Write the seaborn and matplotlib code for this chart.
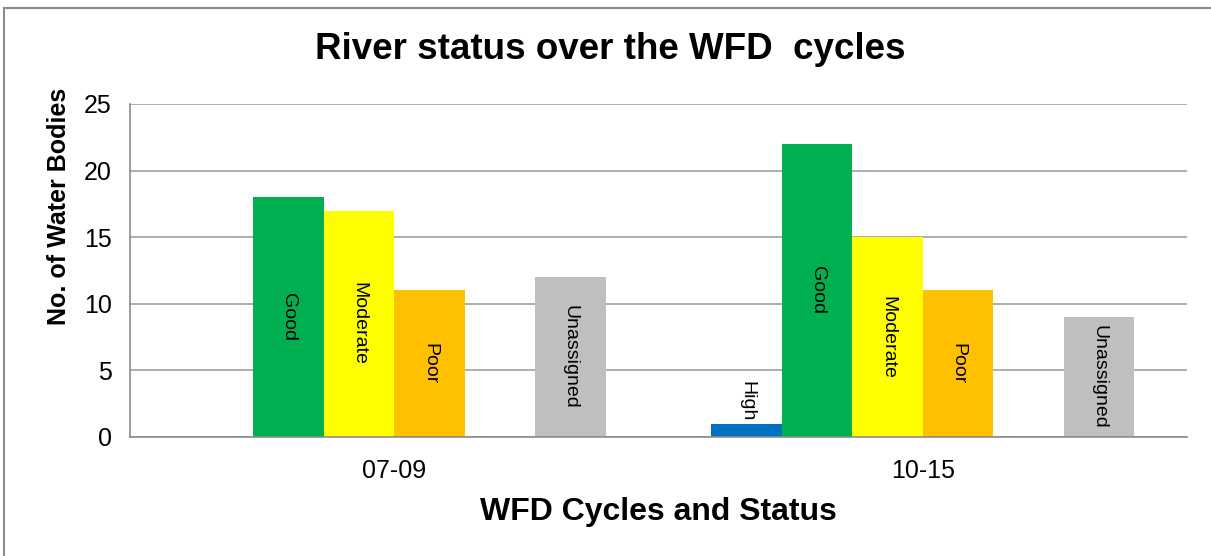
import pandas as pd
import matplotlib
matplotlib.use('Agg')
import matplotlib.pyplot as plt
import seaborn as sns
from matplotlib.patches import Rectangle

# Data
cycles = ['07-09', '10-15']
statuses = ['High', 'Good', 'Moderate', 'Poor', 'Bad', 'Unassigned']
counts_0709 = [0, 18, 17, 11, 0, 12]
counts_1015 = [1, 22, 15, 11, 0, 9]
status_colors = ['#0070C0', '#00B050', '#FFFF00', '#FFC000', '#C00000', '#BFBFBF']

rows = []
for cycle, counts in zip(cycles, [counts_0709, counts_1015]):
    for status, n in zip(statuses, counts):
        rows.append({'cycle': cycle, 'status': status, 'count': n})
df = pd.DataFrame(rows)

sns.set_style('white')
plt.rcParams['font.family'] = ['Liberation Sans', 'DejaVu Sans']
plt.rcParams['text.color'] = 'black'
plt.rcParams['axes.labelcolor'] = 'black'

fig = plt.figure(figsize=(12.11, 5.56), dpi=100)
ax = fig.add_axes([130 / 1211, 1 - 437 / 556, 1057 / 1211, 333 / 556])

sns.barplot(data=df, x='cycle', y='count', hue='status', order=cycles,
            hue_order=statuses, palette=status_colors, width=0.8,
            saturation=1, legend=False, linewidth=0, ax=ax)

# rotated labels inside each bar
for container, status in zip(ax.containers, statuses):
    for bar in container:
        h = bar.get_height()
        if h <= 0:
            continue
        xc = bar.get_x() + bar.get_width() / 2
        if h < 4:
            ax.text(xc, h + 0.15, status, rotation=270, ha='center', va='bottom', fontsize=14)
        else:
            ax.text(xc, h / 2, status, rotation=270, ha='center', va='center', fontsize=14)

ax.set_xlim(-0.5, 1.5)
ax.set_ylim(0, 25)
ax.set_yticks(range(0, 26, 5))
ax.set_xticks([0, 1])
ax.set_xticklabels(cycles, fontsize=18)
ax.set_xticks([-0.5, 0.5, 1.5], minor=True)
ax.tick_params(axis='x', which='major', length=0, pad=16, labelcolor='black')
ax.tick_params(axis='x', which='minor', length=8, width=1.2, color='#8C8C8C', direction='out')
ax.tick_params(axis='y', length=8, width=1.2, color='#8C8C8C', direction='out',
               labelsize=18, pad=5, labelcolor='black')
ax.yaxis.grid(True, color='#A0A0A0', linewidth=1.2)
ax.set_axisbelow(True)

for side in ['top', 'right']:
    ax.spines[side].set_visible(False)
for side in ['left', 'bottom']:
    ax.spines[side].set_color('#8C8C8C')
    ax.spines[side].set_linewidth(1.2)

ax.set_xlabel('WFD Cycles and Status', fontsize=23, fontweight='bold')
ax.xaxis.set_label_coords(0.5, (437 - 497) / 333)
ax.set_ylabel('No. of Water Bodies', fontsize=18, fontweight='bold')
ax.yaxis.set_label_coords((71 - 130) / 1057, (437 - 206) / 333)
fig.text(610 / 1211, 1 - 59 / 556, 'River status over the WFD  cycles',
         ha='center', va='baseline', fontsize=26.5, fontweight='bold')

# chart area border
fig.patches.append(Rectangle((4 / 1211, -0.1), 1.2, 1.1 - 8 / 556, transform=fig.transFigure,
                             fill=False, edgecolor='#8C8C8C', linewidth=1.5))

fig.savefig('out.png', dpi=100)
